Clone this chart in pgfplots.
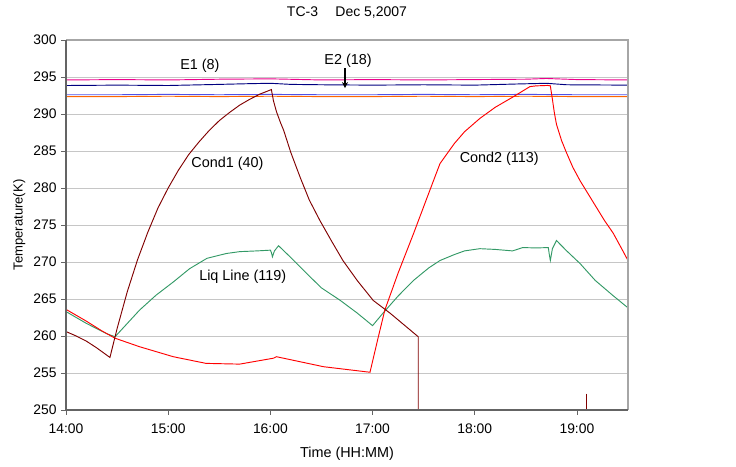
\documentclass[border=0pt]{standalone}
\usepackage{pgfplots}
\pgfplotsset{compat=1.18}
\usepackage{fontspec}
\setmainfont{Liberation Sans}
\usetikzlibrary{arrows.meta}
\definecolor{condone}{RGB}{128,0,0}
\definecolor{liq}{RGB}{51,153,102}
\definecolor{navyc}{RGB}{0,0,128}
\definecolor{bluec}{RGB}{80,80,230}
\definecolor{orangec}{RGB}{255,102,0}
\definecolor{axgray}{RGB}{100,100,100}
\newcommand{\lbl}{\fontsize{10.8}{12}\selectfont}

\begin{document}
\begin{tikzpicture}
\begin{axis}[name=ax, scale only axis, width=421.5pt, height=277.5pt,
  xmin=14, xmax=19.5, ymin=250, ymax=300,
  xtick={14,15,16,17,18,19},
  xticklabels={14:00,15:00,16:00,17:00,18:00,19:00},
  ytick={250,255,...,300},
  tick pos=left, tick align=outside, major tick length=3.5pt,
  tick style={axgray, line width=0.6pt},
  ymajorgrids, grid style={gray!45, line width=0.5pt},
  axis line style={draw=none},
  /pgf/number format/assume math mode=true,
  tick label style={font=\fontsize{10.4}{12}\selectfont},
  xticklabel style={yshift=-3pt},
  every axis plot/.append style={line width=0.7pt, mark=none}]

% flat lines at top
\addplot[magenta] coordinates {(14,294.6) (14.5,294.65) (15,294.6) (15.5,294.7)
  (16,294.75) (16.5,294.6) (17,294.65) (17.5,294.6) (18,294.65) (18.5,294.7)
  (18.7,294.8) (19,294.65) (19.5,294.6)};
\addplot[navyc] coordinates {(14,293.85) (14.5,293.9) (15,293.85) (15.5,294.0)
  (15.8,294.1) (16.0,294.15) (16.2,294.0) (16.5,293.95) (17,293.9) (17.5,293.95)
  (18,293.9) (18.4,294.05) (18.7,294.15) (18.9,293.95) (19.5,293.9)};
\addplot[bluec] coordinates {(14,292.6) (14.5,292.6) (15,292.65) (15.5,292.6)
  (16,292.65) (16.5,292.6) (17,292.6) (17.5,292.65) (18,292.6) (18.5,292.65)
  (19,292.6) (19.5,292.6)};
\addplot[orangec] coordinates {(14,292.35) (14.5,292.35) (15,292.4) (15.5,292.35)
  (16,292.4) (16.5,292.35) (17,292.35) (17.5,292.4) (18,292.35) (18.5,292.4)
  (19,292.35) (19.5,292.35)};

% Liq Line
\addplot[liq] coordinates {(14.0,263.3) (14.1,262.5) (14.2,261.7) (14.3,261.0)
  (14.4,260.3) (14.48,259.9) (14.6,261.7) (14.72,263.5) (14.88,265.5)
  (15.05,267.3) (15.21,269.1) (15.38,270.5) (15.57,271.15) (15.7,271.4)
  (15.87,271.5) (16.0,271.6) (16.01,271.3) (16.02,270.7) (16.04,271.5)
  (16.08,272.2) (16.2,270.6) (16.355,268.45) (16.5,266.5) (16.68,264.85)
  (16.85,263.1) (17.0,261.4) (17.1,263.05) (17.25,265.4) (17.4,267.5)
  (17.55,269.2) (17.66,270.2) (17.8,271.0) (17.9,271.5) (18.05,271.8)
  (18.2,271.7) (18.37,271.5) (18.47,271.95) (18.6,271.9) (18.72,271.95)
  (18.73,271.0) (18.74,270.2) (18.76,271.8) (18.8,272.9) (18.9,271.5)
  (19.03,269.8) (19.18,267.5) (19.35,265.5) (19.5,263.8)};

% Cond2
\addplot[red] coordinates {(14.0,263.6) (14.2,262.0) (14.35,260.7) (14.48,259.7)
  (14.72,258.55) (15.05,257.2) (15.37,256.3) (15.7,256.2) (16.03,257.0)
  (16.06,257.2) (16.52,255.85) (16.975,255.1) (17.05,259.5) (17.12,263.5)
  (17.25,268.5) (17.4,273.8) (17.55,279.3) (17.66,283.3) (17.8,286.0)
  (17.9,287.6) (18.05,289.4) (18.2,290.9) (18.374,292.3) (18.54,293.7)
  (18.6,293.8) (18.716,293.86) (18.74,293.8) (18.76,292.0) (18.78,290.1)
  (18.8,288.6) (18.85,286.4) (18.9,284.7) (18.96,282.8) (19.03,281.0)
  (19.11,279.2) (19.19,277.4) (19.27,275.6) (19.355,273.9) (19.43,272.0)
  (19.5,270.2)};

% Cond1
\addplot[condone] coordinates {(14.0,260.6) (14.1,260.0) (14.2,259.3) (14.3,258.4)
  (14.43,257.1) (14.5,261.0) (14.6,266.0) (14.7,270.3) (14.8,274.0) (14.9,277.3)
  (15.0,280.0) (15.1,282.4) (15.2,284.5) (15.3,286.2) (15.4,287.75) (15.5,289.1)
  (15.6,290.2) (15.7,291.2) (15.8,292.0) (15.9,292.7) (16.01,293.3)
  (16.03,291.8) (16.06,290.3) (16.1,288.8) (16.13,287.8) (16.2,284.8)
  (16.29,281.5) (16.38,278.4) (16.485,275.6) (16.6,272.8) (16.71,270.2)
  (16.85,267.5) (17.007,264.8) (17.17,263.1) (17.3,261.6) (17.447,259.9)
  (17.447,245)};
\addplot[condone] coordinates {(19.09,252.2) (19.09,249)};

% annotations
\node[font=\lbl] at (axis cs:15.31,296.56) {E1 (8)};
\node[font=\lbl] at (axis cs:16.76,297.2) {E2 (18)};
\draw[-{Stealth[length=4.5pt,width=4.5pt]}, line width=1pt] (axis cs:16.73,296.15) -- (axis cs:16.73,293.5);
\node[font=\lbl] at (axis cs:15.58,283.33) {Cond1 (40)};
\node[font=\lbl] at (axis cs:18.24,284.0) {Cond2 (113)};
\node[font=\lbl] at (axis cs:15.73,267.95) {Liq Line (119)};
\end{axis}

\draw[gray!70, line width=0.8pt] (ax.south east) -- (ax.north east) -- (ax.north west);
\draw[axgray, line width=0.9pt] (ax.north west) -- (ax.south west) -- (ax.south east);
\node[font=\fontsize{10.5}{12}\selectfont] at ([yshift=20.5pt]ax.north) {TC-3\hspace{13pt}Dec 5,2007};
\node[font=\lbl] at ([yshift=-32.5pt]ax.south) {Time (HH:MM)};
\node[font=\fontsize{9.8}{12}\selectfont, rotate=90] at ([xshift=-35pt]ax.west) {Temperature(K)};

\pgfresetboundingbox
\useasboundingbox ([xshift=-49.5pt,yshift=-42pt]ax.south west) rectangle ([xshift=81pt,yshift=30pt]ax.north east);
\end{tikzpicture}
\end{document}
